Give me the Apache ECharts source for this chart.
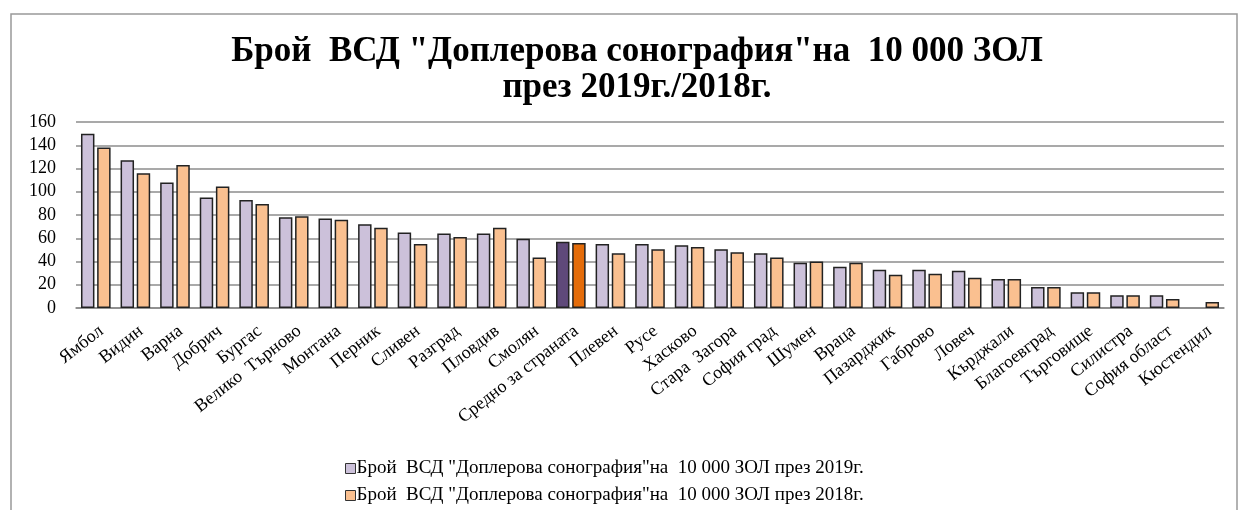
<!DOCTYPE html>
<html>
<head>
<meta charset="utf-8">
<script src="https://cdn.jsdelivr.net/npm/echarts@6/dist/echarts.min.js"></script>
<style>
  html, body { margin: 0; padding: 0; background: #fff; }
  #chart { width: 1241px; height: 510px; }
</style>
</head>
<body>
<div id="chart"></div>
<script>
var regions = ['Ямбол', 'Видин', 'Варна', 'Добрич', 'Бургас', 'Велико  Търново', 'Монтана', 'Перник',
    'Сливен', 'Разград', 'Пловдив', 'Смолян', 'Средно за страната', 'Плевен', 'Русе', 'Хасково',
    'Стара  Загора', 'София град', 'Шумен', 'Враца', 'Пазарджик', 'Габрово', 'Ловеч', 'Кърджали',
    'Благоевград', 'Търговище', 'Силистра', 'София област', 'Кюстендил'];
var values2019 = [150, 127, 108, 95, 93, 78, 77, 72, 65, 64, 64, 59.5, 57, 55, 55, 54, 50.5, 47, 39,
    35.5, 33, 33, 32, 25, 18, 13.5, 11, 11, null];
var values2018 = [138, 116, 123, 104.5, 89.5, 79, 76, 69, 55, 61, 69, 43.5, 56, 47, 50.5, 52.5, 48,
    43.5, 40, 39, 28.5, 29.5, 26, 25, 18, 13.5, 11, 7.8, 5.2];
var yTicks = { min: 0, max: 160, interval: 20 };
var averageName = 'Средно за страната';
var name2019 = 'Брой  ВСД "Доплерова сонография"на  10 000 ЗОЛ през 2019г.';
var name2018 = 'Брой  ВСД "Доплерова сонография"на  10 000 ЗОЛ през 2018г.';

var serif = '"Liberation Serif", "DejaVu Serif", serif';

// the national average gets darker colours
function withHighlight(values, color) {
    return values.map(function (v, i) {
        if (regions[i] === averageName) {
            return { value: v, itemStyle: { color: color } };
        }
        return v;
    });
}

var myChart = echarts.init(document.getElementById('chart'));
var option = {
    backgroundColor: '#ffffff',
    animation: false,
    title: {
        text: 'Брой  ВСД "Доплерова сонография"на  10 000 ЗОЛ\nпрез 2019г./2018г.',
        left: 632,
        textAlign: 'center',
        top: 29,
        textStyle: {
            fontFamily: serif,
            fontWeight: 'bold',
            fontSize: 35,
            lineHeight: 36,
            color: '#000'
        }
    },
    graphic: [{
        type: 'rect',
        shape: { x: 11, y: 14, width: 1226, height: 510 },
        style: { fill: 'none', stroke: '#999', lineWidth: 1.5 },
        silent: true
    }],
    legend: {
        orient: 'vertical',
        left: 340,
        top: 454,
        itemWidth: 10,
        itemHeight: 10,
        itemGap: 8,
        icon: 'rect',
        textStyle: { fontFamily: serif, fontSize: 19, color: '#000', padding: [0, 0, 0, -4] },
        data: [
            { name: name2019, itemStyle: { color: '#CCC1DA', borderColor: '#333', borderWidth: 1 } },
            { name: name2018, itemStyle: { color: '#FAC090', borderColor: '#333', borderWidth: 1 } }
        ]
    },
    grid: { left: 76, right: 17, top: 122, bottom: 202, containLabel: false },
    xAxis: {
        type: 'category',
        data: regions,
        axisLine: { lineStyle: { color: '#888', width: 1.5 } },
        axisTick: { show: false },
        axisLabel: {
            interval: 0,
            rotate: 38,
            margin: 14,
            align: 'right',
            verticalAlign: 'top',
            fontFamily: serif,
            fontSize: 18,
            color: '#000'
        }
    },
    yAxis: {
        type: 'value',
        min: yTicks.min,
        max: yTicks.max,
        interval: yTicks.interval,
        axisLine: { show: false },
        axisTick: { show: false },
        axisLabel: { fontFamily: serif, fontSize: 18, color: '#000', margin: 20 },
        splitLine: { lineStyle: { color: '#8c8c8c', width: 1.5 } }
    },
    series: [{
        name: name2019,
        type: 'bar',
        data: withHighlight(values2019, '#5F497A'),
        barWidth: '34%',
        barGap: '20%',
        itemStyle: { color: '#CCC1DA', borderColor: '#222', borderWidth: 1.5 }
    }, {
        name: name2018,
        type: 'bar',
        data: withHighlight(values2018, '#E46C0A'),
        barWidth: '34%',
        barGap: '20%',
        itemStyle: { color: '#FAC090', borderColor: '#222', borderWidth: 1.5 }
    }]
};
myChart.setOption(option);
window.addEventListener('resize', function () {
    myChart.resize();
});
</script>
</body>
</html>
